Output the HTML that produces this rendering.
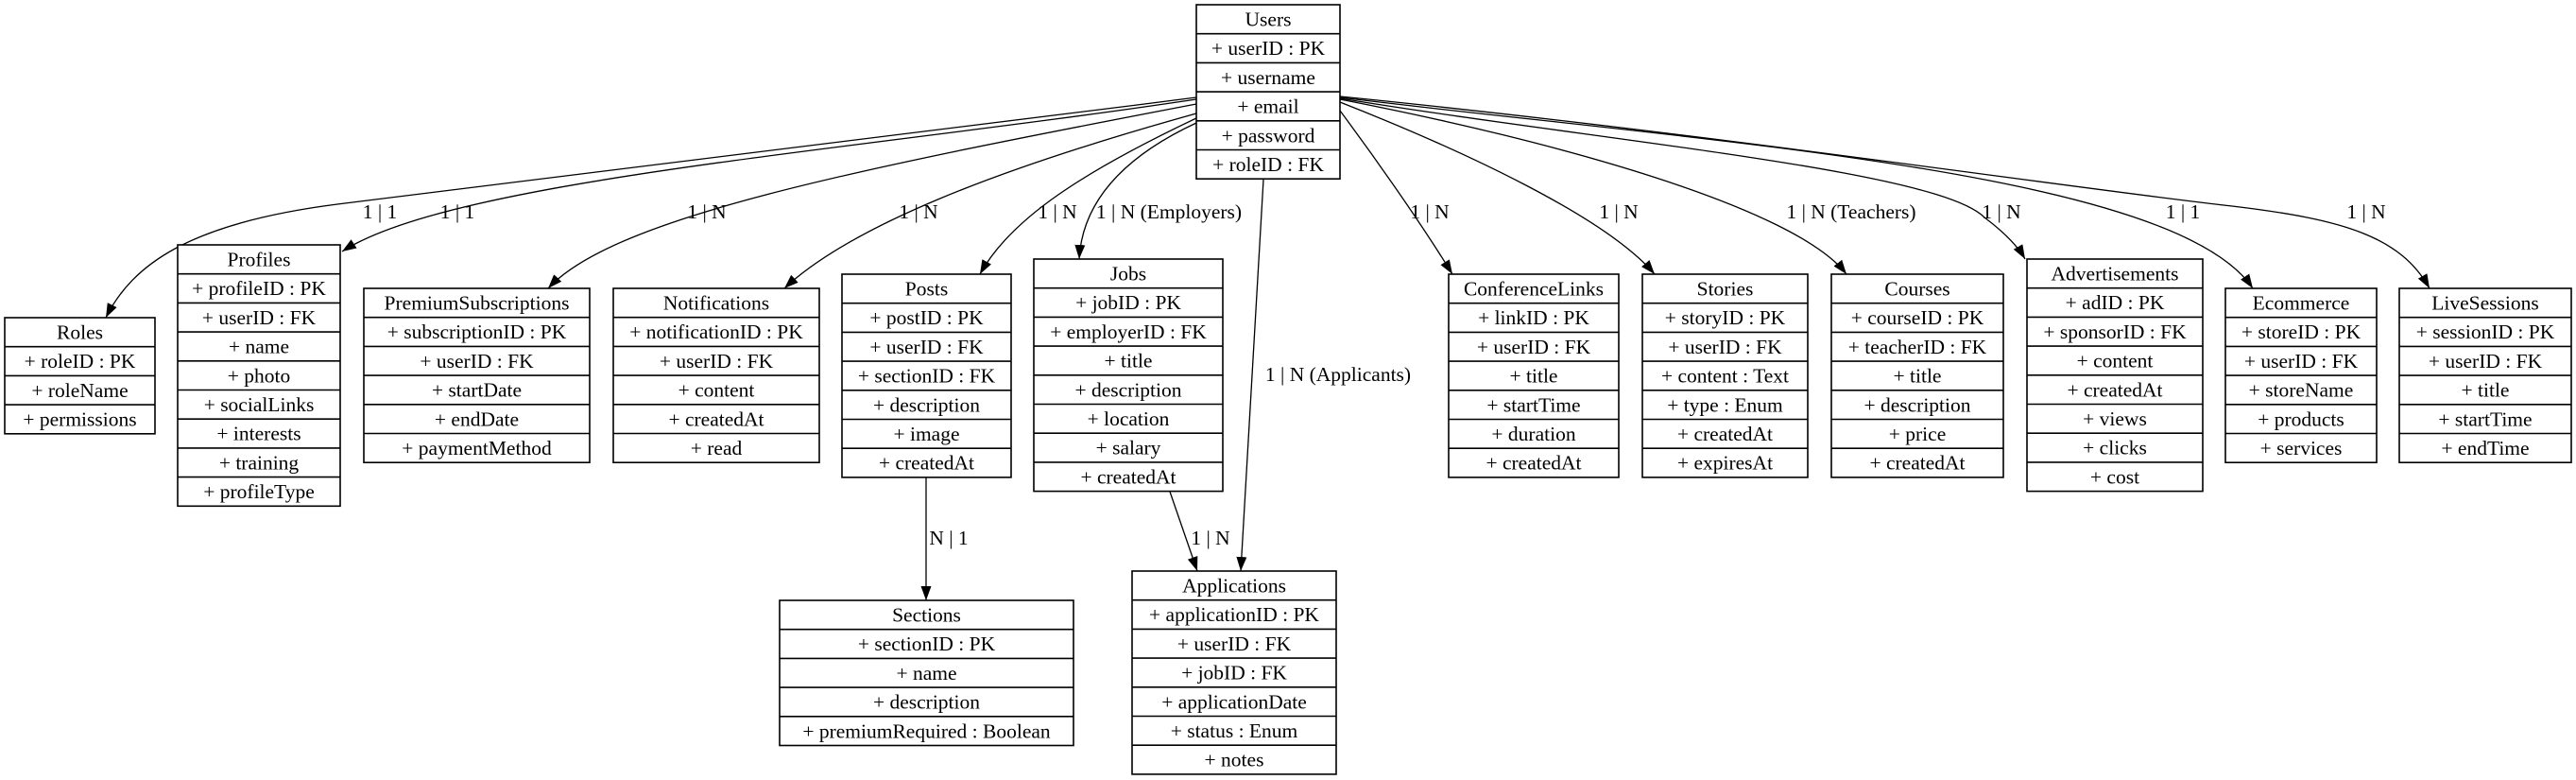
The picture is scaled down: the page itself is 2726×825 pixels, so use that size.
<!DOCTYPE html>
<html><head><meta charset="utf-8"><style>
html,body{margin:0;padding:0;background:#fff;}
svg{display:block;}
text{font-family:"Liberation Serif",serif;font-size:21.5px;fill:#000;}
.b rect{fill:#fff;stroke:#000;stroke-width:1.6;}
.b line{stroke:#000;stroke-width:1.6;}
.e{fill:none;stroke:#000;stroke-width:1.3;}
</style></head><body>
<svg width="2726" height="825" viewBox="0 0 2726 825" xmlns="http://www.w3.org/2000/svg">
<defs><marker id="a" markerUnits="userSpaceOnUse" markerWidth="16" markerHeight="12" refX="15" refY="5.5" orient="auto"><path d="M0,0 L15,5.5 L0,11 z" fill="#000"/></marker></defs>

<g class="e" marker-end="url(#a)">
<path d="M1266,103 C900,150 520,195 357,216 C200,236 140,280 112,336"/>
<path d="M1266,105 C900,160 480,190 362,266"/>
<path d="M1266,110 C900,180 650,230 580,305"/>
<path d="M1266,120 C1050,180 900,240 830,305"/>
<path d="M1266,125 C1150,180 1070,230 1037,290"/>
<path d="M1266,130 C1180,170 1145,220 1142,274"/>
<path d="M1418,117 C1450,160 1500,230 1537,290"/>
<path d="M1418,108 C1550,160 1700,230 1751,290"/>
<path d="M1418,105 C1650,150 1900,220 1954,290"/>
<path d="M1418,104 C1700,150 2050,180 2100,230 C2120,245 2135,260 2143,274"/>
<path d="M1418,103 C1800,150 2300,180 2384,305"/>
<path d="M1418,102 C1800,140 2200,200 2362,218 C2480,232 2540,250 2571,305"/>
<path d="M980,505 L980,635"/>
<path d="M1238,520 L1267,604"/>
<path d="M1337,190 L1313,604"/>
</g>

<g>
<text x="402" y="231" text-anchor="middle">1 | 1</text>
<text x="484" y="231" text-anchor="middle">1 | 1</text>
<text x="748" y="231" text-anchor="middle">1 | N</text>
<text x="972" y="231" text-anchor="middle">1 | N</text>
<text x="1119" y="231" text-anchor="middle">1 | N</text>
<text x="1237" y="231" text-anchor="middle">1 | N (Employers)</text>
<text x="1513" y="231" text-anchor="middle">1 | N</text>
<text x="1713" y="231" text-anchor="middle">1 | N</text>
<text x="1959" y="231" text-anchor="middle">1 | N (Teachers)</text>
<text x="2118" y="231" text-anchor="middle">1 | N</text>
<text x="2310" y="231" text-anchor="middle">1 | 1</text>
<text x="2504" y="231" text-anchor="middle">1 | N</text>
<text x="1416" y="403" text-anchor="middle">1 | N (Applicants)</text>
<text x="1004" y="576" text-anchor="middle">N | 1</text>
<text x="1281" y="576" text-anchor="middle">1 | N</text>
</g>

<g class="b" id="boxes"></g>
</svg>
<script>
var B=[
[1266,1418,5,["Users","+ userID : PK","+ username","+ email","+ password","+ roleID : FK"]],
[5,164,336,["Roles","+ roleID : PK","+ roleName","+ permissions"]],
[188,360,259,["Profiles","+ profileID : PK","+ userID : FK","+ name","+ photo","+ socialLinks","+ interests","+ training","+ profileType"]],
[385,624,305,["PremiumSubscriptions","+ subscriptionID : PK","+ userID : FK","+ startDate","+ endDate","+ paymentMethod"]],
[649,867,305,["Notifications","+ notificationID : PK","+ userID : FK","+ content","+ createdAt","+ read"]],
[891,1070,290,["Posts","+ postID : PK","+ userID : FK","+ sectionID : FK","+ description","+ image","+ createdAt"]],
[1094,1294,274,["Jobs","+ jobID : PK","+ employerID : FK","+ title","+ description","+ location","+ salary","+ createdAt"]],
[1533,1713,290,["ConferenceLinks","+ linkID : PK","+ userID : FK","+ title","+ startTime","+ duration","+ createdAt"]],
[1738,1913,290,["Stories","+ storyID : PK","+ userID : FK","+ content : Text","+ type : Enum","+ createdAt","+ expiresAt"]],
[1938,2120,290,["Courses","+ courseID : PK","+ teacherID : FK","+ title","+ description","+ price","+ createdAt"]],
[2145,2331,274,["Advertisements","+ adID : PK","+ sponsorID : FK","+ content","+ createdAt","+ views","+ clicks","+ cost"]],
[2355,2515,305,["Ecommerce","+ storeID : PK","+ userID : FK","+ storeName","+ products","+ services"]],
[2539,2721,305,["LiveSessions","+ sessionID : PK","+ userID : FK","+ title","+ startTime","+ endTime"]],
[825,1136,635,["Sections","+ sectionID : PK","+ name","+ description","+ premiumRequired : Boolean"]],
[1198,1414,604,["Applications","+ applicationID : PK","+ userID : FK","+ jobID : FK","+ applicationDate","+ status : Enum","+ notes"]]
];
var NS="http://www.w3.org/2000/svg",g=document.getElementById("boxes"),H=30.7;
B.forEach(function(b){
 var x1=b[0],x2=b[1],y=b[2],r=b[3],n=r.length;
 var rc=document.createElementNS(NS,"rect");
 rc.setAttribute("x",x1);rc.setAttribute("y",y);rc.setAttribute("width",x2-x1);rc.setAttribute("height",H*n);
 g.appendChild(rc);
 r.forEach(function(t,i){
  if(i>0){var l=document.createElementNS(NS,"line");
   l.setAttribute("x1",x1);l.setAttribute("x2",x2);l.setAttribute("y1",y+H*i);l.setAttribute("y2",y+H*i);g.appendChild(l);}
  var tx=document.createElementNS(NS,"text");
  tx.setAttribute("x",(x1+x2)/2);tx.setAttribute("y",y+H*i+22.5);tx.setAttribute("text-anchor","middle");
  tx.textContent=t;g.appendChild(tx);
 });
});
</script>
</body></html>
